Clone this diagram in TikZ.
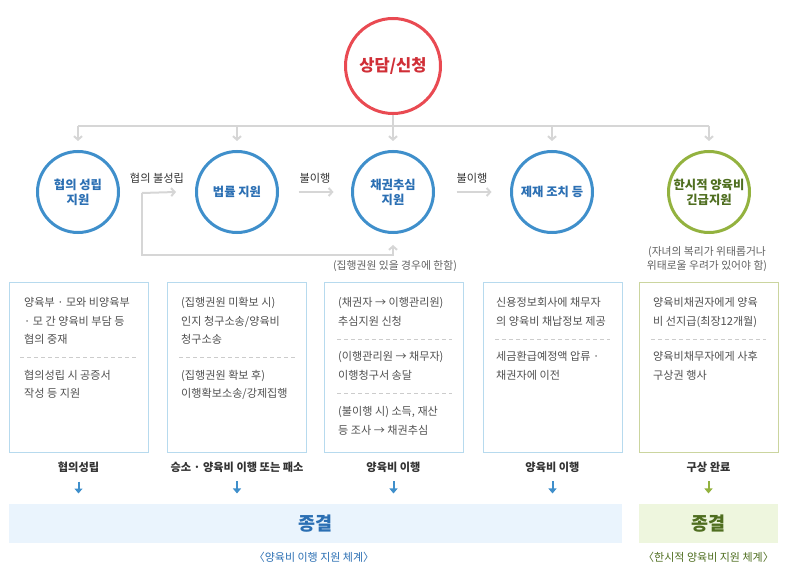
\documentclass[tikz,border=0pt]{standalone}
\usepackage{fontspec}
\setmainfont{Noto Sans CJK KR}
\usetikzlibrary{arrows.meta}
\definecolor{redc}{HTML}{E94A52}
\definecolor{redt}{HTML}{D02F37}
\definecolor{bluec}{HTML}{3F8FCB}
\definecolor{bluet}{HTML}{2B6FB3}
\definecolor{greenc}{HTML}{93B23F}
\definecolor{greent}{HTML}{4F6E20}
\definecolor{grayl}{HTML}{D6D6D6}
\definecolor{boxb}{HTML}{B7DAEE}
\definecolor{boxg}{HTML}{CBD59F}
\definecolor{bluebg}{HTML}{EAF4FD}
\definecolor{greenbg}{HTML}{EEF6DE}
\definecolor{txtc}{HTML}{4F4F4F}
\definecolor{lblc}{HTML}{333333}
\begin{document}
\begin{tikzpicture}[x=1pt,y=-1pt,
    circ/.style={circle,draw=bluec,line width=3pt,minimum size=81pt,inner sep=0pt,align=center,text=bluet,font=\fontsize{12.3}{15}\selectfont\bfseries},
    box/.style={draw=boxb,line width=1pt,minimum width=139pt,minimum height=169pt,inner sep=0pt},
    txt/.style={anchor=base west,inner sep=0pt,text=txtc,font=\fontsize{11.1}{13}\selectfont},
    lbl/.style={inner sep=0pt,text=lblc,font=\fontsize{11.2}{13}\selectfont\bfseries},
    mid/.style={inner sep=0pt,text=lblc,font=\fontsize{11.2}{13}\selectfont},
    note/.style={inner sep=0pt,align=center,text=txtc!90,font=\fontsize{10.8}{14}\selectfont},
    gline/.style={draw=grayl,line width=2pt},
    garrow/.style={gline,-{Straight Barb[length=3.5pt,width=8pt]}},
    barrow/.style={draw=bluec,line width=2pt,-{Triangle[length=5pt,width=8pt]}},
    sep/.style={draw=gray!40,line width=0.8pt,dash pattern=on 4pt off 3pt}]
\useasboundingbox (0,0) rectangle (801,585);

\node[circle,draw=redc,line width=3pt,minimum size=95pt,inner sep=0pt,text=redt,font=\fontsize{16.5}{19}\selectfont\bfseries] (req) at (393,66) {상담/신청};
\coordinate (hub) at (393,126);

\node[circ] (c1) at (78,192) {협의 성립\\지원};
\node[circ] (c2) at (237,192) {법률 지원};
\node[circ] (c3) at (393,192) {채권추심\\지원};
\node[circ] (c4) at (552,192) {제재 조치 등};
\node[circ,draw=greenc,text=greent] (c5) at (709,192) {한시적 양육비\\긴급지원};

\draw[gline] (req) -- (hub);
\draw[gline] (c1.north |- hub) -- (c5.north |- hub);
\foreach \i in {1,...,5} {
    \draw[garrow] (c\i.north |- hub) -- ([yshift=9pt]c\i.north);
}

\node[mid] (fail) at (157,178) {협의 불성립};
\node[mid] (miss1) at (315,178) {불이행};
\node[mid] (miss2) at (472,178) {불이행};
\coordinate (split) at (142,193);
\draw[garrow] (split) -- ([xshift=-19pt]c2.west);
\draw[garrow] (split) -- ++(0,62) -| ([yshift=-11pt]c3.south);
\draw[garrow] ([xshift=19.5pt]c2.east) -- ([xshift=-17.5pt]c3.west);
\draw[garrow] ([xshift=21.5pt]c3.east) -- ([xshift=-18.5pt]c4.west);

\node[note] (only) at (395,266) {(집행권원 있을 경우에 한함)};
\node[note] (risk) at (707,259) {(자녀의 복리가 위태롭거나\\위태로울 우려가 있어야 함)};

\foreach \i/\x in {1/78.5,2/237,3/393.5,4/552.5} {
    \node[box] (b\i) at (\x,367.5) {};
}
\node[box,draw=boxg] (b5) at (708.5,367.5) {};

\foreach \x/\y/\t in {24/303/{양육부 · 모와 비양육부}, 24/322/{· 모 간 양육비 부담 등}, 24/340/{협의 중재},
        24/376/{협의성립 시 공증서}, 24/394/{작성 등 지원},
        181/303/{(집행권원 미확보 시)}, 181/322/{인지 청구소송/양육비}, 181/340/{청구소송},
        181/376/{(집행권원 확보 후)}, 181/394/{이행확보소송/강제집행},
        338/303/{(채권자 → 이행관리원)}, 338/322/{추심지원 신청}, 338/357/{(이행관리원 → 채무자)},
        338/376/{이행청구서 송달}, 338/412/{(불이행 시) 소득, 재산}, 338/430/{등 조사 → 채권추심},
        496/303/{신용정보회사에 채무자}, 496/322/{의 양육비 채납정보 제공}, 496/357/{세금환급예정액 압류 ·},
        496/376/{채권자에 이전},
        653/303/{양육비채권자에게 양육}, 653/322/{비 선지급(최장12개월)}, 653/357/{양육비채무자에게 사후},
        653/376/{구상권 행사}} {
    \node[txt] (t\x-\y) at (\x,\y+4) {\t};
}
\foreach \a/\b/\y in {20/137/357, 179/295/357, 337/452/339, 337/452/393, 495/610/339, 651/766/339} {
    \draw[sep] (\a,\y) -- (\b,\y);
}

\node[lbl] (r1) at (78.5,467) {협의성립};
\node[lbl] (r2) at (237,467) {승소 · 양육비 이행 또는 패소};
\node[lbl] (r3) at (393.5,467) {양육비 이행};
\node[lbl] (r4) at (552.5,467) {양육비 이행};
\node[lbl] (r5) at (708.5,467) {구상 완료};
\foreach \i in {1,...,4} {
    \draw[barrow] ([yshift=-9pt]r\i.south) -- ++(0,12);
}
\draw[barrow,draw=greenc] ([yshift=-9pt]r5.south) -- ++(0,12);

\node[fill=bluebg,minimum width=613pt,minimum height=39pt,inner sep=0pt,text=bluet,font=\fontsize{18.5}{20}\selectfont\bfseries] (end1) at (315.5,523.5) {종결};
\node[fill=greenbg,minimum width=139pt,minimum height=39pt,inner sep=0pt,text=greent,font=\fontsize{18.5}{20}\selectfont\bfseries] (end2) at (708.5,523.5) {종결};
\node[inner sep=0pt,text=bluet,font=\fontsize{11}{13}\selectfont] (sys1) at (314,557) {〈양육비 이행 지원 체계〉};
\node[inner sep=0pt,text=greent,font=\fontsize{11}{13}\selectfont] (sys2) at (708.5,557) {〈한시적 양육비 지원 체계〉};
\end{tikzpicture}
\end{document}
